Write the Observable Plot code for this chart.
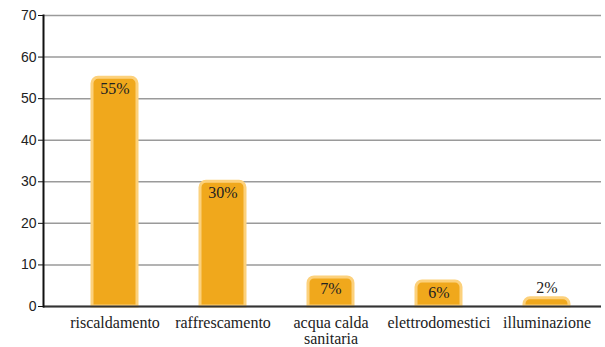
<!DOCTYPE html>
<html>
<head>
<meta charset="utf-8">
<script src="https://cdn.jsdelivr.net/npm/d3@7"></script>
<script src="https://cdn.jsdelivr.net/npm/@observablehq/plot@0.6"></script>
<style>
  body { margin: 0; background: #fff; }
  svg text { font-family: "Liberation Serif", "DejaVu Serif", serif; }
  svg g.yticks text { font-family: "Liberation Sans", "DejaVu Sans", sans-serif; }
</style>
</head>
<body>
<div id="chart"></div>
<script>
// Household energy use by end use (% share)
const categories = ["riscaldamento", "raffrescamento", "acqua calda\nsanitaria", "elettrodomestici", "illuminazione"];
const shares = [55, 30, 7, 6, 2];
const yTicks = [0, 10, 20, 30, 40, 50, 60, 70];

const data = categories.map((category, i) => ({category, share: shares[i]}));

// Replace each bar rect with a path whose top corners are rounded
function roundTops(index, scales, values, dimensions, context, next) {
  const g = next(index, scales, values, dimensions, context);
  const r = 6;
  for (const rect of Array.from(g.querySelectorAll("rect"))) {
    const x = +rect.getAttribute("x"), y = +rect.getAttribute("y");
    const w = +rect.getAttribute("width"), h = +rect.getAttribute("height");
    const rr = Math.min(r, w / 2, h);
    const path = document.createElementNS("http://www.w3.org/2000/svg", "path");
    path.setAttribute("d",
      `M${x},${y + h}V${y + rr}A${rr},${rr} 0 0 1 ${x + rr},${y}H${x + w - rr}A${rr},${rr} 0 0 1 ${x + w},${y + rr}V${y + h}Z`);
    for (const a of ["fill", "stroke", "stroke-width", "transform"]) {
      if (rect.hasAttribute(a)) path.setAttribute(a, rect.getAttribute(a));
    }
    rect.replaceWith(path);
  }
  return g;
}

const chart = Plot.plot({
  width: 605,
  height: 347,
  marginLeft: 43,
  marginRight: 4,
  marginTop: 15,
  marginBottom: 41,
  style: {background: "#fff", color: "#222", fontFamily: "Liberation Serif"},
  x: {domain: categories, insetLeft: 18, paddingInner: 0.58, paddingOuter: 0.29, label: null},
  y: {domain: [0, 70], label: null},
  marks: [
    Plot.gridY(yTicks, {stroke: "#9a9a9a", strokeOpacity: 1, strokeWidth: 1.5}),
    Plot.barY(data, {x: "category", y: "share", fill: "#f0a81c", stroke: "#fcd17c", strokeWidth: 3, render: roundTops}),
    Plot.ruleY([0], {stroke: "#333", strokeWidth: 2}),
    Plot.frame({anchor: "left", stroke: "#111", strokeWidth: 2}),
    Plot.axisY(yTicks, {className: "yticks", tickSize: 5, tickPadding: 2, fontSize: 14, stroke: "#111", label: null}),
    Plot.axisX({tickSize: 0, tickPadding: 10, fontSize: 16, label: null}),
    // value labels: inside the bar top when it fits, above it otherwise
    Plot.text(data, {filter: d => d.share >= 5, x: "category", y: "share", text: d => d.share + "%", dy: 11, fontSize: 16, fill: "#222"}),
    Plot.text(data, {filter: d => d.share < 5, x: "category", y: "share", text: d => d.share + "%", dy: -10, fontSize: 16, fill: "#222"})
  ]
});

document.getElementById("chart").appendChild(chart);
</script>
</body>
</html>
